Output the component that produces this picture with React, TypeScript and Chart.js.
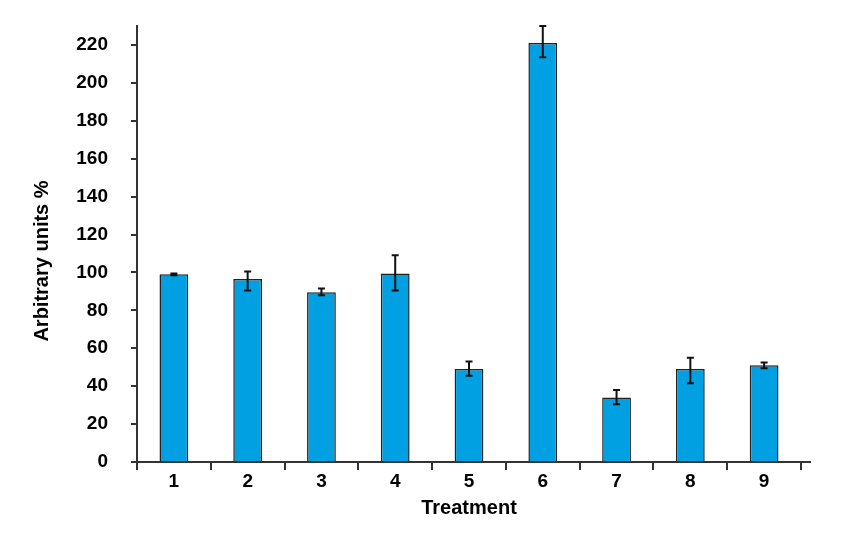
import React, { useEffect, useRef } from "react";
import { Chart, registerables } from "chart.js";

Chart.register(...registerables);

const categories = ["1", "2", "3", "4", "5", "6", "7", "8", "9"];
const values = [99, 96.5, 89.5, 99.5, 49, 221, 34, 49, 51];
const errPlus = [0.5, 4, 2, 9.5, 4, 9, 4, 6, 1.5];
const errMinus = [0.5, 6, 1.5, 9, 3.5, 7.5, 3.5, 7.5, 1.5];
const yTicks = [0, 20, 40, 60, 80, 100, 120, 140, 160, 180, 200, 220];
const yMax = 230;
const xTitle = "Treatment";
const yTitle = "Arbitrary units %";

const FONT = "'Liberation Sans', Arial, Helvetica, sans-serif";

const errorBarPlugin = {
  id: "errorBars",
  afterDatasetsDraw(chart: any) {
    const meta = chart.getDatasetMeta(0);
    const yScale = chart.scales.y;
    const ctx = chart.ctx;
    ctx.save();
    ctx.strokeStyle = "#111";
    ctx.lineWidth = 2;
    meta.data.forEach((bar: any, i: number) => {
      const x = bar.x;
      const yTop = yScale.getPixelForValue(values[i] + errPlus[i]);
      const yBot = yScale.getPixelForValue(values[i] - errMinus[i]);
      const cap = 3.5;
      ctx.beginPath();
      ctx.moveTo(x, yTop);
      ctx.lineTo(x, yBot);
      ctx.moveTo(x - cap, yTop);
      ctx.lineTo(x + cap, yTop);
      ctx.moveTo(x - cap, yBot);
      ctx.lineTo(x + cap, yBot);
      ctx.stroke();
    });
    ctx.restore();
  },
};

const decorPlugin = {
  id: "decor",
  afterDraw(chart: any) {
    const { ctx, chartArea } = chart;
    ctx.save();
    // small extension of the x axis line past the last tick
    ctx.strokeStyle = "#333";
    ctx.lineWidth = 2;
    ctx.beginPath();
    ctx.moveTo(chartArea.right, chartArea.bottom);
    ctx.lineTo(chartArea.right + 10, chartArea.bottom);
    ctx.stroke();
    // y axis title, slightly below the axis centre as in the reference
    ctx.fillStyle = "#000";
    ctx.font = `bold 20px ${FONT}`;
    ctx.textAlign = "center";
    ctx.textBaseline = "middle";
    ctx.translate(42, (chartArea.top + chartArea.bottom) / 2 + 17);
    ctx.rotate(-Math.PI / 2);
    ctx.fillText(yTitle, 0, 0);
    ctx.restore();
  },
};

export default function App() {
  const ref = useRef<HTMLCanvasElement>(null);
  useEffect(() => {
    if (!ref.current) return;
    const chart = new Chart(ref.current, {
      type: "bar",
      data: {
        labels: categories,
        datasets: [
          {
            data: values,
            backgroundColor: "rgb(0,160,227)",
            borderColor: "#222",
            borderWidth: 1.5,
            barPercentage: 0.39,
            categoryPercentage: 1,
          },
        ],
      },
      plugins: [errorBarPlugin, decorPlugin],
      options: {
        animation: false,
        responsive: false,
        layout: { padding: { top: 26, right: 46, bottom: 0, left: 0 } },
        plugins: { legend: { display: false }, tooltip: { enabled: false } },
        scales: {
          x: {
            afterFit(scale: any) {
              scale.height = 75;
              scale.paddingLeft = 0;
              scale.paddingRight = 0;
            },
            grid: {
              drawOnChartArea: false,
              drawTicks: true,
              tickLength: 8,
              color: "#333",
              lineWidth: 2,
              offset: true,
            },
            border: { display: true, color: "#333", width: 2 },
            ticks: {
              padding: 0,
              color: "#000",
              font: { family: FONT, size: 19, weight: "bold" },
            },
            title: {
              display: true,
              text: xTitle,
              color: "#000",
              font: { family: FONT, size: 20, weight: "bold" },
              padding: { top: 0, bottom: 17 },
            },
          },
          y: {
            min: 0,
            max: yMax,
            afterFit(scale: any) {
              scale.width = 137;
              scale.paddingTop = 0;
              scale.paddingBottom = 0;
            },
            afterBuildTicks(scale: any) {
              scale.ticks = yTicks.map((v) => ({ value: v }));
            },
            grid: {
              drawOnChartArea: false,
              drawTicks: true,
              tickLength: 6,
              color: "#333",
              lineWidth: 2,
            },
            border: { display: true, color: "#333", width: 2 },
            ticks: {
              padding: 23,
              color: "#000",
              font: { family: FONT, size: 19, weight: "bold" },
            },
            title: { display: false },
          },
        },
      },
    });
    return () => chart.destroy();
  }, []);
  return (
    <div style={{ position: "absolute", left: 0, top: 0, width: 847, height: 537, background: "#fff" }}>
      <canvas ref={ref} width={847} height={537} style={{ display: "block" }} />
    </div>
  );
}
